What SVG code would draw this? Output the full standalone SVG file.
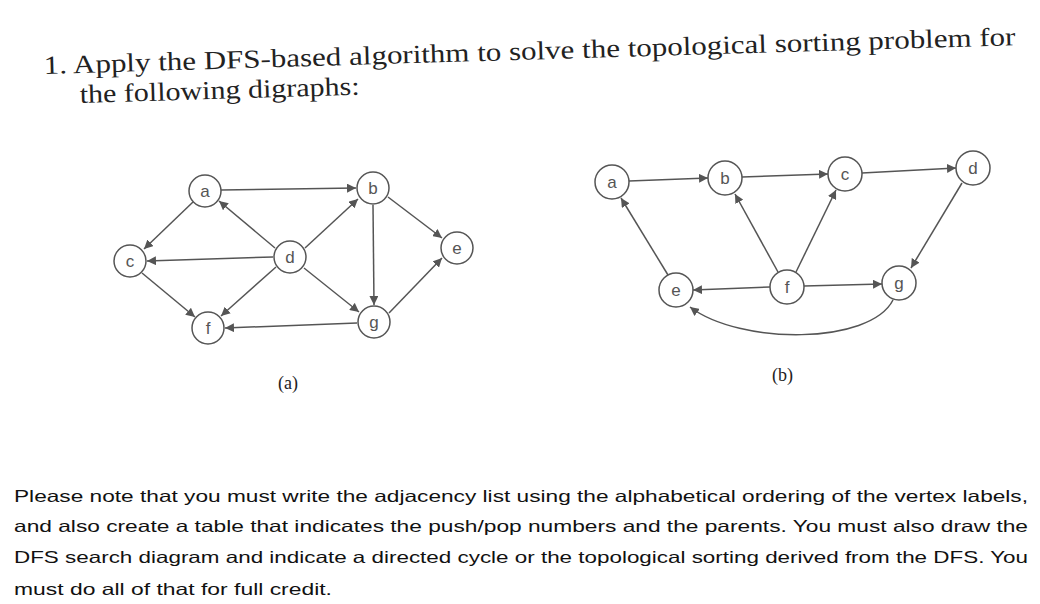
<svg xmlns="http://www.w3.org/2000/svg" width="1040" height="604" viewBox="0 0 1040 604">
<style>
.n{fill:#fff;stroke:#555;stroke-width:1.5}
.l{font-family:"Liberation Sans",Arial,sans-serif;font-size:17px;fill:#555;text-anchor:middle}
.e{stroke:#555;stroke-width:1.5;fill:none;marker-end:url(#ar)}
.t{font-family:"Liberation Serif","Times New Roman",serif;font-size:26px;fill:#222}
.p{font-family:"Liberation Sans",Arial,sans-serif;font-size:16.5px;fill:#111}
</style>
<defs><marker id="ar" viewBox="0 0 10 10" refX="10" refY="5" markerWidth="9" markerHeight="9" markerUnits="userSpaceOnUse" orient="auto"><path d="M0,0L10,5L0,10z" fill="#555"/></marker></defs>
<rect width="1040" height="604" fill="#fff"/>
<g transform="rotate(-1.7 44 72)">
<text class="t" x="44" y="74" textLength="972" lengthAdjust="spacingAndGlyphs">1.  Apply the DFS-based algorithm to solve the topological sorting problem for</text>
<text class="t" x="79" y="104" textLength="280" lengthAdjust="spacingAndGlyphs">the following digraphs:</text>
</g>
<g id="connectors">
<line class="e" x1="221" y1="190" x2="356" y2="188"/>
<line class="e" x1="193" y1="202" x2="144" y2="249"/>
<line class="e" x1="275" y1="248" x2="219" y2="201"/>
<line class="e" x1="305" y1="248" x2="358" y2="199"/>
<line class="e" x1="273" y1="257" x2="147" y2="261"/>
<line class="e" x1="276" y1="267" x2="221" y2="316"/>
<line class="e" x1="304" y1="268" x2="359" y2="312"/>
<line class="e" x1="142" y1="273" x2="195" y2="317"/>
<line class="e" x1="373" y1="205" x2="374" y2="305"/>
<line class="e" x1="388" y1="197" x2="442" y2="238"/>
<line class="e" x1="389" y1="313" x2="442" y2="258"/>
<line class="e" x1="357" y1="323" x2="225" y2="328"/>
<line class="e" x1="629" y1="181" x2="708" y2="178"/>
<line class="e" x1="742" y1="177" x2="828" y2="174"/>
<line class="e" x1="862" y1="173" x2="956" y2="168"/>
<line class="e" x1="668" y1="275" x2="621" y2="198"/>
<line class="e" x1="778" y1="272" x2="735" y2="194"/>
<line class="e" x1="796" y1="272" x2="836" y2="190"/>
<line class="e" x1="770" y1="287" x2="693" y2="290"/>
<line class="e" x1="804" y1="286" x2="882" y2="284"/>
<line class="e" x1="962" y1="183" x2="911" y2="268"/>
<path class="e" d="M893,300 C870,345 740,345 690,307"/>
</g>
<g id="a1"><circle class="n" cx="205" cy="191" r="16"/><text class="l" x="205" y="197">a</text></g>
<g id="b1"><circle class="n" cx="373" cy="188" r="16"/><text class="l" x="373" y="194">b</text></g>
<g id="c1"><circle class="n" cx="130" cy="261" r="16"/><text class="l" x="130" y="267">c</text></g>
<g id="d1"><circle class="n" cx="290" cy="257" r="16"/><text class="l" x="290" y="263">d</text></g>
<g id="e1"><circle class="n" cx="457" cy="248" r="16"/><text class="l" x="457" y="254">e</text></g>
<g id="f1"><circle class="n" cx="208" cy="328" r="16"/><text class="l" x="208" y="334">f</text></g>
<g id="g1"><circle class="n" cx="374" cy="322" r="16"/><text class="l" x="374" y="328">g</text></g>
<g id="a2"><circle class="n" cx="612" cy="182" r="17"/><text class="l" x="612" y="188">a</text></g>
<g id="b2"><circle class="n" cx="725" cy="178" r="17"/><text class="l" x="725" y="184">b</text></g>
<g id="c2"><circle class="n" cx="845" cy="174" r="17"/><text class="l" x="845" y="180">c</text></g>
<g id="d2"><circle class="n" cx="973" cy="168" r="17"/><text class="l" x="973" y="174">d</text></g>
<g id="e2"><circle class="n" cx="676" cy="290" r="17"/><text class="l" x="676" y="296">e</text></g>
<g id="f2"><circle class="n" cx="787" cy="287" r="17"/><text class="l" x="787" y="293">f</text></g>
<g id="g2"><circle class="n" cx="899" cy="283" r="17"/><text class="l" x="899" y="289">g</text></g>
<text class="t" x="278" y="389" style="font-size:18px">(a)</text>
<text class="t" x="772" y="381" style="font-size:18px">(b)</text>
<text class="p" x="14" y="502" textLength="1014" lengthAdjust="spacingAndGlyphs">Please note that you must write the adjacency list using the alphabetical ordering of the vertex labels,</text>
<text class="p" x="14" y="532" textLength="1014" lengthAdjust="spacingAndGlyphs">and also create a table that indicates the push/pop numbers and the parents.  You must also draw the</text>
<text class="p" x="14" y="563" textLength="1014" lengthAdjust="spacingAndGlyphs">DFS search diagram and indicate a directed cycle or the topological sorting derived from the DFS.  You</text>
<text class="p" x="14" y="595" textLength="318" lengthAdjust="spacingAndGlyphs">must do all of that for full credit.</text>
</svg>
